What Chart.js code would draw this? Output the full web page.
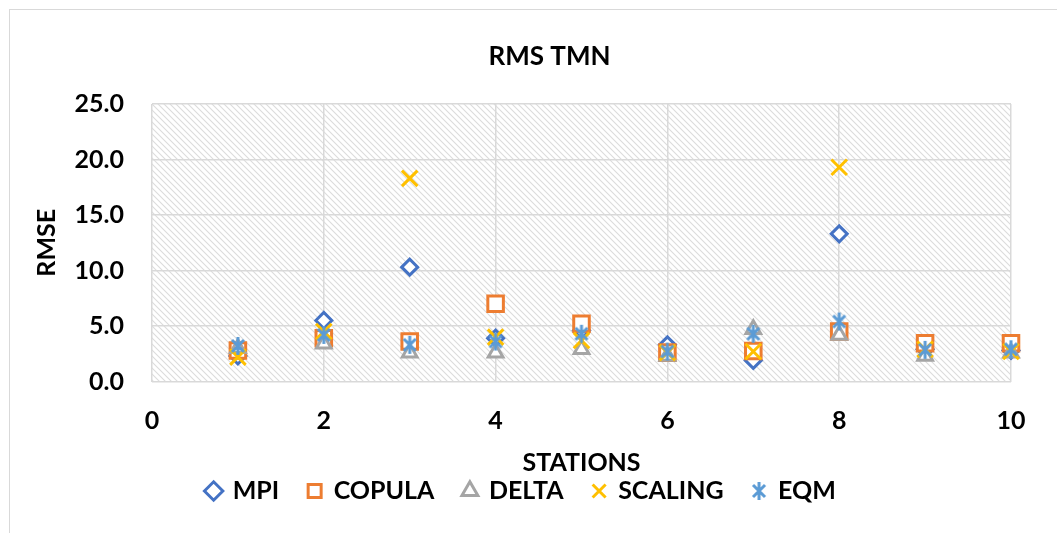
<!DOCTYPE html>
<html>
<head>
<meta charset="utf-8">
<script src="https://cdn.jsdelivr.net/npm/chart.js@4"></script>
<style>
  body { margin: 0; background: #fff; overflow: hidden; }
  #box { position: absolute; left: 9px; top: 9px; width: 1060px; height: 540px; border: 1px solid #d9d9d9; }
</style>
</head>
<body>
<div id="box"><canvas id="myChart" width="1047" height="523"></canvas></div>
<script>
const stations = [1, 2, 3, 4, 5, 6, 7, 8, 9, 10];
const mpi     = [2.3, 5.5, 10.3, 3.9, 4.6, 3.3, 1.9, 13.3, 2.9, 2.8];
const copula  = [2.8, 3.9, 3.6, 7.0, 5.2, 2.6, 2.75, 4.5, 3.45, 3.45];
const delta   = [3.0, 3.4, 2.6, 2.6, 2.9, 2.3, 4.7, 4.2, 2.3, 2.6];
const scaling = [2.2, 4.5, 18.3, 4.0, 3.7, 2.6, 2.7, 19.3, 2.9, 2.7];
const eqm     = [3.2, 4.2, 3.3, 3.6, 4.3, 2.7, 4.3, 5.4, 2.85, 2.9];

const yTicks = [0, 5, 10, 15, 20, 25];
const xTicks = [0, 2, 4, 6, 8, 10];

function toPoints(values) {
    return stations.map((s, i) => ({x: s, y: values[i]}));
}

// asterisk marker like the Excel one (X plus a vertical bar)
function asterisk(color) {
    const c = document.createElement("canvas");
    c.width = 20;
    c.height = 20;
    const g = c.getContext("2d");
    g.strokeStyle = color;
    g.lineWidth = 3;
    g.beginPath();
    g.moveTo(4, 4); g.lineTo(16, 16);
    g.moveTo(16, 4); g.lineTo(4, 16);
    g.moveTo(10, 1); g.lineTo(10, 19);
    g.stroke();
    return c;
}

// diagonal hatch for the plot area
function hatch() {
    const s = 6;
    const c = document.createElement("canvas");
    c.width = s;
    c.height = s;
    const g = c.getContext("2d");
    g.fillStyle = "#fff";
    g.fillRect(0, 0, s, s);
    g.strokeStyle = "#dcdcdc";
    g.lineWidth = 1.1;
    g.beginPath();
    g.moveTo(0, 0); g.lineTo(s, s);
    g.moveTo(-1, s - 1); g.lineTo(1, s + 1);
    g.moveTo(s - 1, -1); g.lineTo(s + 1, 1);
    g.stroke();
    return c;
}

const plotBg = {
    id: "plotBg",
    afterLayout(chart) {
        // Excel centres the title on the whole chart, which runs past the right edge
        chart.titleBlock.left += 78;
        chart.legend.left += 22;
    },
    beforeDraw(chart) {
        const {ctx, chartArea} = chart;
        ctx.save();
        ctx.fillStyle = ctx.createPattern(hatch(), "repeat");
        ctx.fillRect(chartArea.left, chartArea.top, chartArea.right - chartArea.left, chartArea.bottom - chartArea.top);
        ctx.restore();
    }
};

const font = {family: "Lato", size: 25, weight: "bold"};
const gridColor = "#d9d9d9";

const ctx = document.getElementById("myChart");
const myChart = new Chart(ctx, {
    type: "scatter",
    data: {
        datasets: [
            {label: "MPI", data: toPoints(mpi), order: 4, pointStyle: "rectRot", pointRadius: 8,
             borderColor: "#4472C4", backgroundColor: "#fff", borderWidth: 3, clip: false},
            {label: "COPULA", data: toPoints(copula), order: 3, pointStyle: "rect", pointRadius: 11,
             borderColor: "#ED7D31", backgroundColor: "#fff", borderWidth: 3, clip: false},
            {label: "DELTA", data: toPoints(delta), order: 2, pointStyle: "triangle", pointRadius: 8.5,
             borderColor: "#A5A5A5", backgroundColor: "#fff", borderWidth: 3, clip: false},
            {label: "SCALING", data: toPoints(scaling), order: 1, pointStyle: "crossRot", pointRadius: 11,
             borderColor: "#FFC000", backgroundColor: "#FFC000", borderWidth: 3, clip: false},
            {label: "EQM", data: toPoints(eqm), order: 0, pointStyle: asterisk("#5B9BD5"), pointRadius: 10,
             borderColor: "#5B9BD5", backgroundColor: "#5B9BD5", borderWidth: 3, clip: false}
        ]
    },
    options: {
        responsive: false,
        animation: false,
        layout: {padding: {left: 0, right: 46, top: 0, bottom: 19.5}},
        plugins: {
            title: {
                display: true,
                text: "RMS TMN",
                color: "#000",
                font: {family: "Lato", size: 26, weight: "bold", lineHeight: 1.2},
                padding: {top: 31.4, bottom: 31.4}
            },
            legend: {
                position: "bottom",
                labels: {
                    usePointStyle: true,
                    boxWidth: 13,
                    boxHeight: 13,
                    padding: 29,
                    color: "#000",
                    font: font,
                    sort: (a, b) => a.datasetIndex - b.datasetIndex
                }
            },
            tooltip: {enabled: false}
        },
        scales: {
            x: {
                type: "linear",
                min: 0,
                max: 10,
                afterBuildTicks: (axis) => { axis.ticks = xTicks.map(v => ({value: v})); },
                afterFit: (axis) => { axis.height = 68; },
                grid: {color: gridColor, lineWidth: 1.5, drawTicks: false},
                border: {display: false},
                ticks: {color: "#000", font: font, padding: 24.5},
                title: {
                    display: true,
                    text: "STATIONS",
                    color: "#000",
                    font: {family: "Lato", size: 25, weight: "bold", lineHeight: 1.2},
                    padding: {top: 0, bottom: -28.5}
                }
            },
            y: {
                min: 0,
                max: 25,
                afterBuildTicks: (axis) => { axis.ticks = yTicks.map(v => ({value: v})); },
                afterFit: (axis) => { axis.width = 142; },
                grid: {color: gridColor, lineWidth: 1.5, drawTicks: false},
                border: {display: false},
                ticks: {color: "#000", font: font, padding: 28, callback: (v) => v.toFixed(1)},
                title: {
                    display: true,
                    text: "RMSE",
                    color: "#000",
                    font: {family: "Lato", size: 25, weight: "bold", lineHeight: 1.2},
                    padding: {top: 21.5, bottom: 0}
                }
            }
        }
    },
    plugins: [plotBg]
});
</script>
</body>
</html>
